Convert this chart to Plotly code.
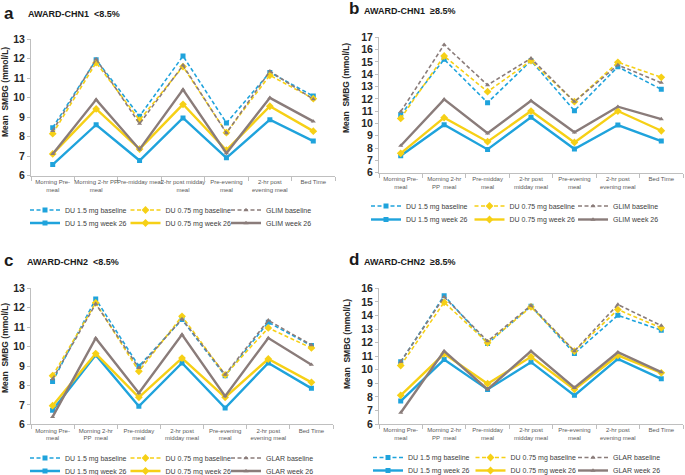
import plotly.graph_objects as go

W, H = 685, 475

# ---------------- data ----------------
cats_a = ["Morning Pre-<br>meal", "Morning 2-hr PP<br>meal", "Pre-midday meal",
          "2-hr post midday<br>meal", "Pre-evening<br>meal", "2-hr post<br>evening meal", "Bed Time"]
cats_bcd = ["Morning Pre-<br>meal", "Morning 2-hr<br>PP  meal", "Pre-midday<br>meal",
            "2-hr post<br>midday meal", "Pre-evening<br>meal", "2-hr post<br>evening meal", "Bed Time"]

a_du15_base = [8.46, 11.95, 9.05, 12.14, 8.70, 11.30, 10.08]
a_du075_base = [8.15, 11.80, 8.85, 11.60, 8.20, 11.15, 9.95]
a_comp_base = [8.30, 11.98, 8.66, 11.66, 8.18, 11.36, 9.92]
a_du15_w26 = [6.56, 8.61, 6.77, 8.96, 6.91, 8.87, 7.77]
a_du075_w26 = [7.11, 9.42, 7.36, 9.66, 7.30, 9.56, 8.28]
a_comp_w26 = [7.11, 9.90, 7.34, 10.42, 7.15, 9.99, 8.78]

b_du15_base = [10.70, 15.21, 11.69, 15.10, 11.04, 14.60, 12.77]
b_du075_base = [10.41, 15.48, 12.58, 15.10, 11.77, 14.97, 13.75]
b_comp_base = [10.96, 16.40, 13.12, 15.29, 11.77, 14.75, 13.31]
b_du15_w26 = [7.38, 9.90, 7.89, 10.50, 7.92, 9.87, 8.57]
b_du075_w26 = [7.57, 10.47, 8.52, 11.01, 8.46, 11.01, 9.41]
b_comp_w26 = [8.19, 11.96, 9.20, 11.85, 9.28, 11.36, 10.36]

c_du15_base = [8.20, 12.45, 8.99, 11.39, 8.50, 11.25, 10.05]
c_du075_base = [8.50, 12.25, 8.73, 11.56, 8.54, 10.96, 9.93]
c_comp_base = [8.33, 12.20, 8.90, 11.42, 8.56, 11.35, 10.08]
c_du15_w26 = [6.72, 9.57, 6.93, 9.16, 6.84, 9.16, 7.85]
c_du075_w26 = [6.96, 9.64, 7.39, 9.41, 7.39, 9.36, 8.16]
c_comp_w26 = [6.38, 10.43, 7.61, 10.62, 7.45, 10.44, 9.07]

d_du15_base = [10.58, 15.46, 11.93, 14.68, 11.20, 14.01, 12.91]
d_du075_base = [10.31, 14.97, 11.98, 14.63, 11.37, 14.43, 13.08]
d_comp_base = [10.58, 15.36, 12.10, 14.73, 11.37, 14.80, 13.25]
d_du15_w26 = [7.69, 10.75, 8.55, 10.56, 8.11, 10.80, 9.33]
d_du075_w26 = [8.11, 11.17, 8.97, 10.95, 8.55, 11.05, 9.77]
d_comp_w26 = [6.83, 11.37, 8.55, 11.37, 8.67, 11.29, 9.82]

panel_letters = ["a", "b", "c", "d"]
panel_titles = ["AWARD-CHN1  <8.5%", "AWARD-CHN1  \u22658.5%", "AWARD-CHN2  <8.5%", "AWARD-CHN2  \u22658.5%"]
comparators = ["GLIM", "GLIM", "GLAR", "GLAR"]
y_max = [13, 17, 13, 16]

# ---------------- styling / layout (pixels) ----------------
BLUE = "#1fa3dc"
YELLOW = "#f6d016"
GRAY = "#8a7c7a"
FONT = "Arial, Liberation Sans, sans-serif"

# plot-area pixel boxes: (x0, x1, ytop, ybottom)
boxes = [(31, 335, 39.3, 175.5), (379, 683, 37.3, 172.7),
         (31, 333, 288.3, 424.3), (379, 683, 288.3, 424.0)]
legend_rows = [(210, 223), (206, 219.5), (458, 471), (457.5, 470.5)]
legend_x = [25, 366, 25, 368]
legend_ew = [55.5, 58.5, 55.5, 57.5]
title_pos = [((2, 13), (26, 14)), ((347, 9), (362, 11)), ((2, 260), (25, 262)), ((347, 259), (362, 262))]
ytitle_pos = [(5, 92), (346, 88), (5, 348), (347, 344)]

data = [
    (cats_a, [a_du15_base, a_du075_base, a_comp_base, a_du15_w26, a_du075_w26, a_comp_w26]),
    (cats_bcd, [b_du15_base, b_du075_base, b_comp_base, b_du15_w26, b_du075_w26, b_comp_w26]),
    (cats_bcd, [c_du15_base, c_du075_base, c_comp_base, c_du15_w26, c_du075_w26, c_comp_w26]),
    (cats_bcd, [d_du15_base, d_du075_base, d_comp_base, d_du15_w26, d_du075_w26, d_comp_w26]),
]

def px_x(x):
    return x / W

def px_y(y):
    return 1 - y / H

fig = go.Figure()
annotations = []
layout = dict(width=W, height=H, margin=dict(l=0, r=0, t=0, b=0, autoexpand=False),
              paper_bgcolor="white", plot_bgcolor="white",
              font=dict(family=FONT, color="#333333"), showlegend=True)

for p in range(4):
    cats, series = data[p]
    comp = comparators[p]
    names = ["DU 1.5 mg baseline", "DU 0.75 mg baseline", f"{comp} baseline",
             "DU 1.5 mg week 26", "DU 0.75 mg week 26", f"{comp} week 26"]
    colors = [BLUE, YELLOW, GRAY, BLUE, YELLOW, GRAY]
    symbols = ["square", "diamond", "triangle-up"] * 2
    msizes = [5, 6, 4.5] * 2
    sfx = "" if p == 0 else str(p + 1)
    leg1 = "legend" if p == 0 else f"legend{2 * p + 1}"
    leg2 = f"legend{2 * p + 2}"
    # draw week 26 first, then baseline on top
    order = [3, 4, 5, 0, 1, 2]
    for i in order:
        base = i < 3
        fig.add_trace(go.Scatter(
            x=cats, y=series[i], name=names[i], mode="lines+markers",
            xaxis="x" + sfx, yaxis="y" + sfx,
            legend=leg1 if base else leg2, legendrank=i,
            line=dict(color=colors[i], width=1.6 if base else 2.4,
                      dash="4px,2.5px" if base else "solid"),
            marker=dict(symbol=symbols[i], size=msizes[i], color=colors[i]),
            hoverinfo="skip"))
    x0, x1, yt, yb = boxes[p]
    layout["xaxis" + sfx] = dict(
        domain=[px_x(x0), px_x(x1)], anchor="y" + sfx, type="category",
        categoryorder="array", categoryarray=cats, range=[-0.5, 6.5],
        showline=True, linecolor="#bfbfbf", linewidth=1, ticks="outside",
        tickson="boundaries", ticklen=4, tickcolor="#bfbfbf", tickangle=0,
        tickfont=dict(size=6, color="#595959", family=FONT), automargin=False,
        showgrid=False, zeroline=False, fixedrange=True)
    layout["yaxis" + sfx] = dict(
        domain=[px_y(yb), px_y(yt)], anchor="x" + sfx, range=[6, y_max[p]], dtick=1,
        showline=True, linecolor="#bfbfbf", linewidth=1, ticks="outside", ticklen=3,
        tickcolor="#bfbfbf", tickfont=dict(size=10.5, color="#262626", family=FONT, weight="bold"),
        automargin=False, showgrid=False, zeroline=False, fixedrange=True)
    for r, leg in enumerate([leg1, leg2]):
        layout[leg] = dict(orientation="h", x=px_x(legend_x[p]), xanchor="left",
                           y=px_y(legend_rows[p][r]), yanchor="middle",
                           entrywidth=legend_ew[p], entrywidthmode="pixels",
                           bgcolor="rgba(0,0,0,0)", borderwidth=0,
                           font=dict(size=7, color="#404040", family=FONT),
                           itemclick=False, itemdoubleclick=False)
    (lx, ly), (tx, ty) = title_pos[p]
    annotations.append(dict(text=f"<b>{panel_letters[p]}</b>", x=px_x(lx), y=px_y(ly),
                            xref="paper", yref="paper", xanchor="left", yanchor="middle",
                            showarrow=False, font=dict(size=17, color="#1a1a1a", family=FONT)))
    annotations.append(dict(text=f"<b>{panel_titles[p]}</b>", x=px_x(tx), y=px_y(ty),
                            xref="paper", yref="paper", xanchor="left", yanchor="middle",
                            showarrow=False, font=dict(size=9, color="#1a1a1a", family=FONT)))
    ax, ay = ytitle_pos[p]
    annotations.append(dict(text="<b>Mean  SMBG (mmol/L)</b>", x=px_x(ax), y=px_y(ay),
                            xref="paper", yref="paper", xanchor="center", yanchor="middle",
                            textangle=-90, showarrow=False,
                            font=dict(size=8.5, color="#262626", family=FONT)))

layout["annotations"] = annotations
fig.update_layout(**layout)
fig.write_html("out.html", config={"displayModeBar": False, "staticPlot": True},
               post_script="document.body.style.margin='0';document.body.style.overflow='hidden';")
